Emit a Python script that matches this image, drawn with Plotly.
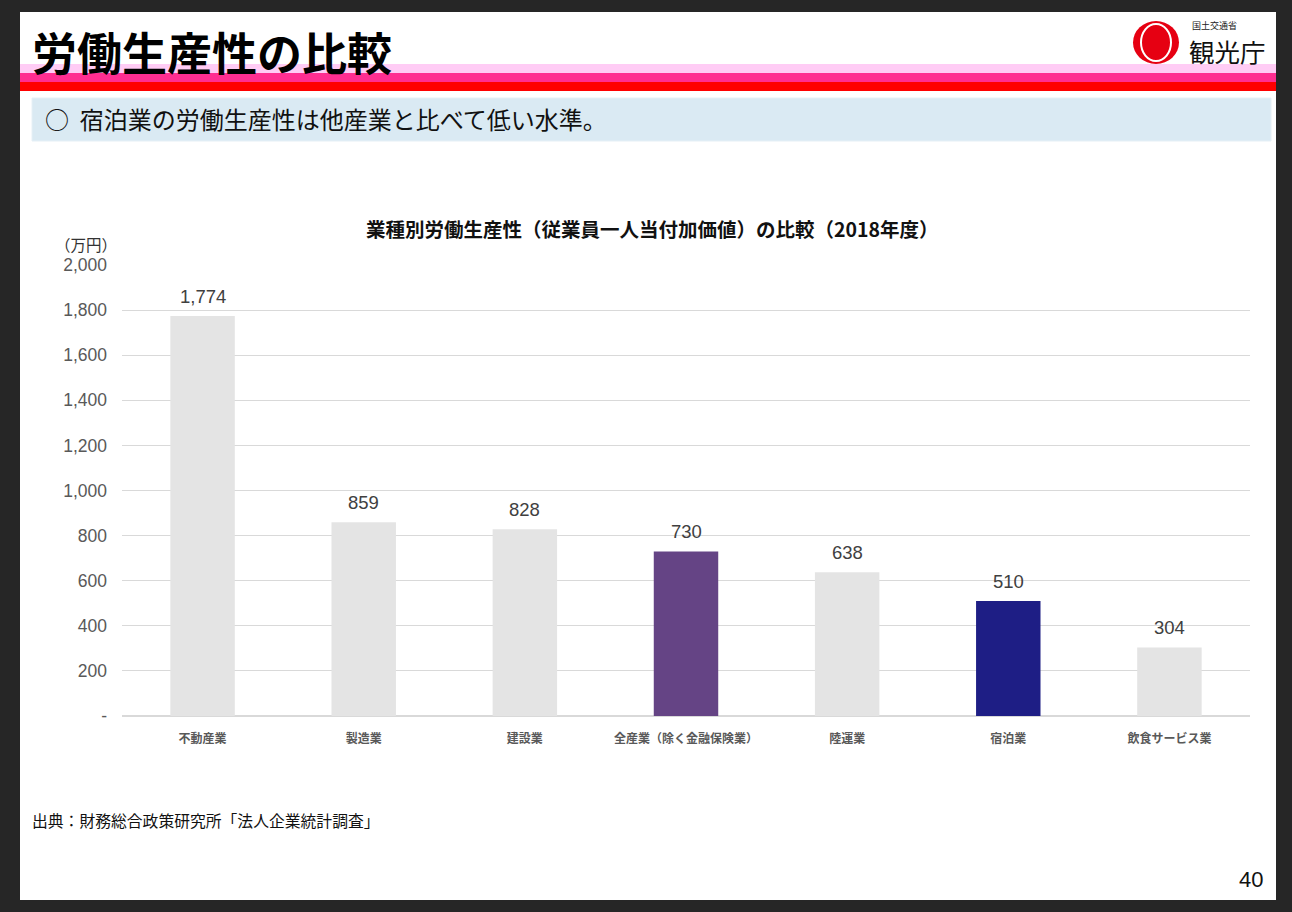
import plotly.graph_objects as go

categories = ["不動産業", "製造業", "建設業", "全産業（除く金融保険業）", "陸運業", "宿泊業", "飲食サービス業"]
values = [1774, 859, 828, 730, 638, 510, 304]
bar_colors = ["#E4E4E4", "#E4E4E4", "#E4E4E4", "#654485", "#E4E4E4", "#1E1E85", "#E4E4E4"]
ytick_vals = [0, 200, 400, 600, 800, 1000, 1200, 1400, 1600, 1800, 2000]
ytick_text = ["-", "200", "400", "600", "800", "1,000", "1,200", "1,400", "1,600", "1,800", "2,000"]

W, H = 1292, 912
JP = "Noto Sans CJK JP, Noto Sans, sans-serif"
LAT = "Liberation Sans, Arial, sans-serif"


def px(x):
    return x / W


def py(y):
    return 1 - y / H


fig = go.Figure()
fig.add_trace(go.Bar(
    x=list(range(len(categories))), y=values,
    marker=dict(color=bar_colors, line=dict(width=0)),
    width=0.4, hoverinfo="skip",
))

shapes = []
shapes.append(dict(type="rect", xref="paper", yref="paper", x0=px(20), x1=px(1276), y0=py(900), y1=py(12),
                   fillcolor="white", line=dict(width=0), layer="below"))
for y0, y1, c in [(64, 73, "#FFCCF5"), (73, 82, "#FF2E91"), (82, 91, "#FF0000")]:
    shapes.append(dict(type="rect", xref="paper", yref="paper", x0=px(20), x1=px(1276), y0=py(y1), y1=py(y0),
                       fillcolor=c, line=dict(width=0), layer="below"))
shapes.append(dict(type="rect", xref="paper", yref="paper", x0=px(1125), x1=px(1276), y0=py(64), y1=py(20),
                   fillcolor="white", line=dict(width=0), layer="below"))
shapes.append(dict(type="rect", xref="paper", yref="paper", x0=px(32), x1=px(1271), y0=py(141), y1=py(98),
                   fillcolor="#DAEAF3", line=dict(color="#E6F0F6", width=1), layer="below"))
shapes.append(dict(type="circle", xref="paper", yref="paper", x0=px(1133), x1=px(1179), y0=py(64), y1=py(21),
                   fillcolor="#E60012", line=dict(width=0), layer="above"))
shapes.append(dict(type="circle", xref="paper", yref="paper", x0=px(1141), x1=px(1171), y0=py(61), y1=py(24),
                   fillcolor="#E60012", line=dict(color="white", width=2), layer="above"))

annotations = []
for i, v in enumerate(values):
    annotations.append(dict(x=i, y=v, xref="x", yref="y", text=f"{v:,}", showarrow=False,
                            yanchor="bottom", yshift=7,
                            font=dict(family=LAT, size=18.5, color="#404040")))


def txt(x, y, s, size, color="black", bold=False, xanchor="left", family=JP):
    annotations.append(dict(x=px(x), y=py(y), xref="paper", yref="paper", text=f"<b>{s}</b>" if bold else s,
                            showarrow=False, xanchor=xanchor, yanchor="middle", borderpad=0,
                            font=dict(family=family, size=size, color=color)))


txt(31, 52, "労働生産性の比較", 45, bold=True)
txt(44, 119, "○  宿泊業の労働生産性は他産業と比べて低い水準。", 24, color="#111111")
txt(652, 228, "業種別労働生産性（従業員一人当付加価値）の比較（2018年度）", 19.5, color="#111111", bold=True, xanchor="center")
txt(54, 244, "（万円）", 15.5, color="#333333")
txt(31, 820, "出典：財務総合政策研究所「法人企業統計調査」", 15.8, color="#111111")
txt(1264, 879, "40", 22, color="#111111", xanchor="right", family=LAT)
txt(1191, 25, "国土交通省", 9, color="#222222")
txt(1188, 50, "観光庁", 25.5, color="#111111")

fig.update_layout(
    width=W, height=H,
    margin=dict(l=0, r=0, t=0, b=0, pad=0, autoexpand=False),
    paper_bgcolor="#262626", plot_bgcolor="rgba(0,0,0,0)",
    showlegend=False,
    shapes=shapes, annotations=annotations,
    xaxis=dict(domain=[px(122), px(1250)], range=[-0.5, 6.5], automargin=False,
               tickvals=list(range(len(categories))), ticktext=[f"<b>{c}</b>" for c in categories],
               tickfont=dict(family=JP, size=12, color="#595959"),
               showgrid=False, zeroline=False, showline=False, ticks="", ticklabelstandoff=14,
               fixedrange=True),
    yaxis=dict(domain=[py(716), py(265)], range=[0, 2000], automargin=False,
               tickvals=ytick_vals, ticktext=ytick_text,
               tickfont=dict(family=LAT, size=17.5, color="#595959"),
               showgrid=True, gridcolor="#D9D9D9", gridwidth=1,
               zeroline=True, zerolinecolor="#D9D9D9", zerolinewidth=2,
               showline=False, ticks="", ticklabelstandoff=14, fixedrange=True),
)

css = ("html,body{margin:0;padding:0;overflow:hidden;width:1292px;height:912px;}"
       ".plotly-graph-div{position:fixed;top:0;left:0;}")
post = ("var s=document.createElement('style');s.innerHTML='" + css + "';document.head.appendChild(s);")

fig.write_html("out.html", config={"displayModeBar": False}, post_script=post)
